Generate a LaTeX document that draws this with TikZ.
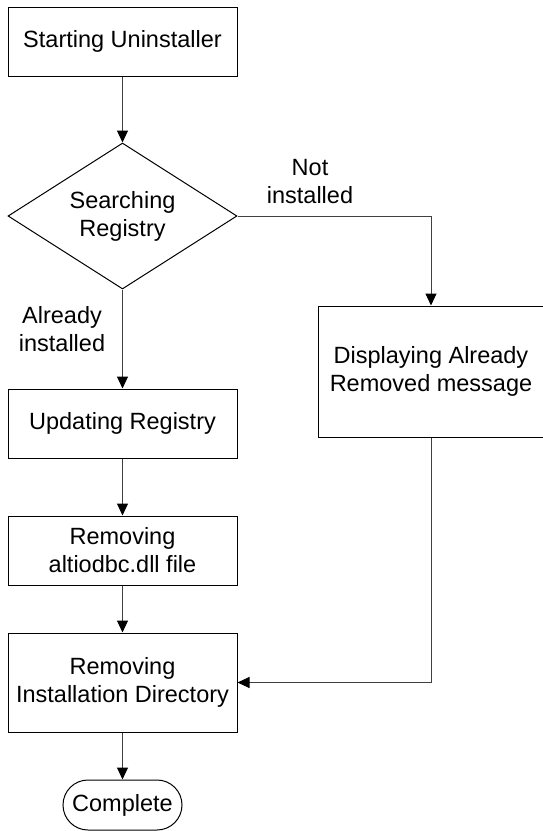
\documentclass[tikz,border=0pt]{standalone}
\usepackage{fontspec}
\setmainfont{Liberation Sans}
\usetikzlibrary{arrows.meta}
\usetikzlibrary{shapes.geometric}
\tikzset{>/.tip={Triangle[length=12pt,width=11pt,color=black]},
  txt/.style={align=center, font=\fontsize{23.5}{28}\selectfont},
  box/.style={txt, draw, line width=1pt, minimum width=229pt, inner sep=0pt},
  choice/.style={txt, draw, line width=1pt, diamond, aspect=1.57,
    minimum width=229pt, minimum height=146pt, inner sep=0pt},
  finish/.style={txt, draw, line width=1pt, rounded corners=25pt,
    minimum width=119pt, minimum height=50pt, inner sep=0pt},
  cond/.style={txt, inner sep=0pt},
  flow/.style={->, line width=1pt, draw=black!75}}

\begin{document}
\begin{tikzpicture}[x=1pt,y=-1pt]
\useasboundingbox (0,0) rectangle (542,831);
\node[box,minimum height=69pt] (start)  at (122.5,41.5)  {Starting Uninstaller};
\node[choice]                  (search) at (122.5,216)   {Searching\\Registry};
\node[box,minimum height=69pt] (update) at (122.5,423.5) {Updating Registry};
\node[box,minimum height=69pt] (rmfile) at (122.5,550.5) {Removing\\altiodbc.dll file};
\node[box,minimum height=99pt] (rmdir)  at (122.5,682.5) {Removing\\Installation Directory};
\node[finish]                  (done)   at (122.5,805)   {Complete};
\node[box,minimum width=226pt,minimum height=131pt] (msg) at (431,371.5) {Displaying Already\\Removed message};
\node[cond] (notinst) at (310,182)   {Not\\installed};
\node[cond] (already) at (62,329.5)  {Already\\installed};
\draw[flow] (start) to (search);
\draw[flow] (search) to (update);
\foreach \i/\j in {update/rmfile, rmfile/rmdir, rmdir/done}
{
  \draw[flow] (\i) to (\j);
}
\draw[flow] (search.east) -| (msg.north);
\draw[flow] (msg.south) |- (rmdir.east);
\end{tikzpicture}
\end{document}
